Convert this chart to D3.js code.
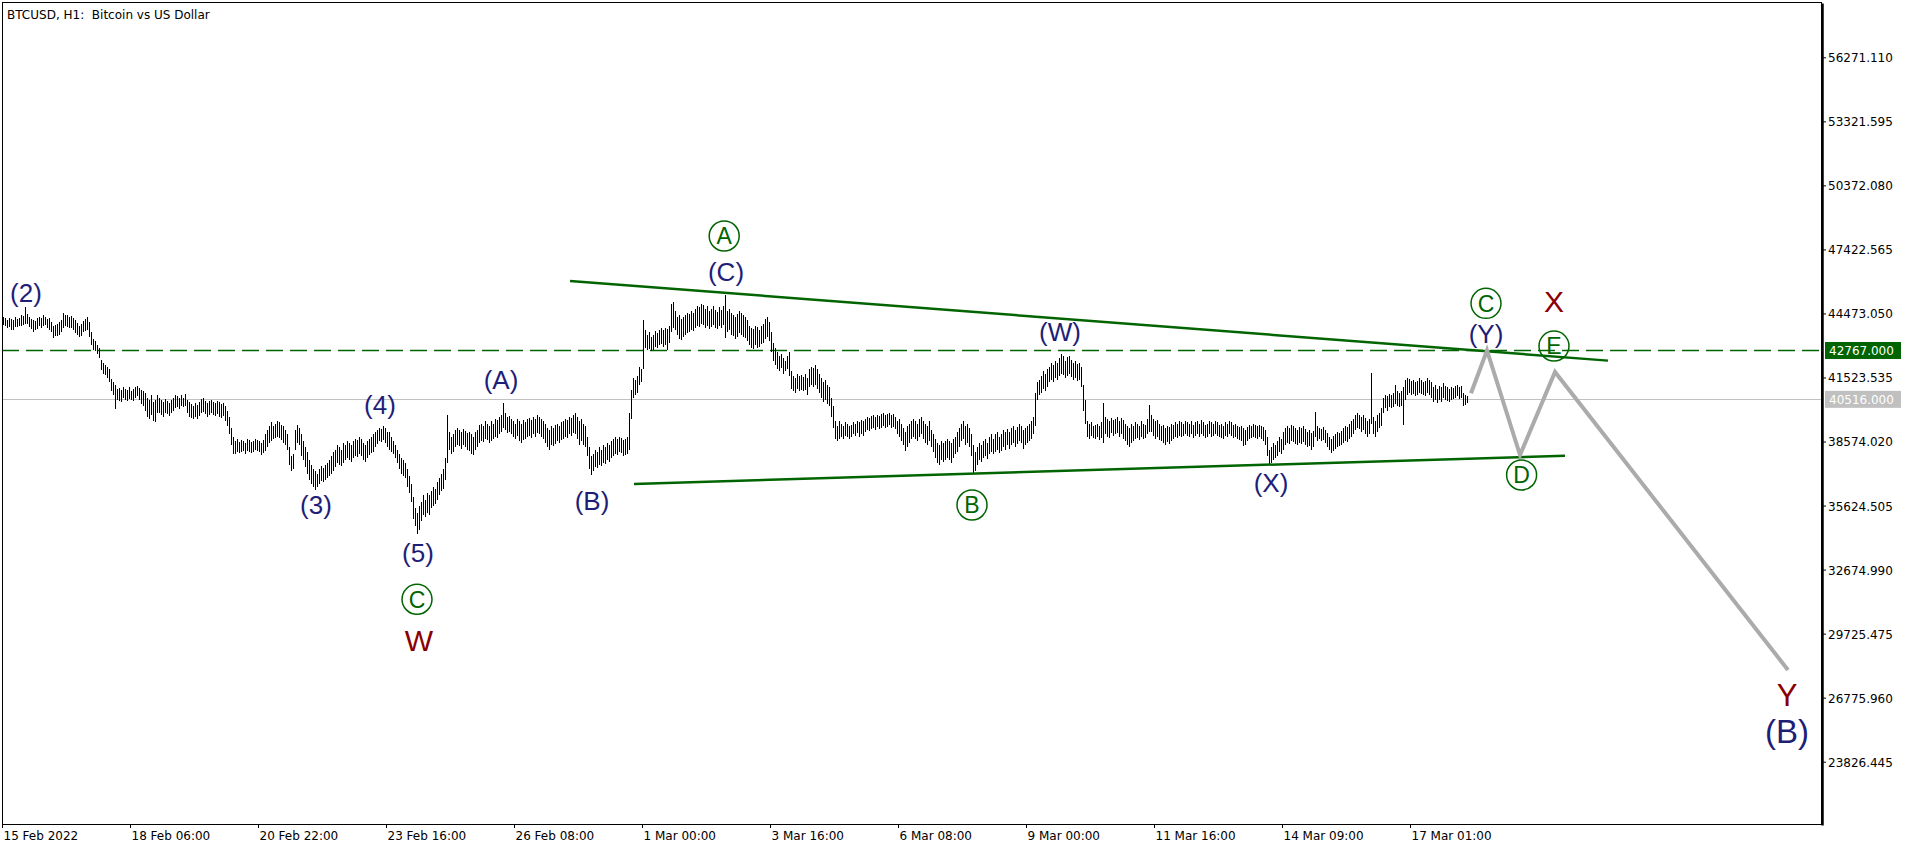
<!DOCTYPE html>
<html><head><meta charset="utf-8">
<script src="https://cdn.jsdelivr.net/npm/d3@7"></script>
<style>html,body{margin:0;padding:0;background:#fff;overflow:hidden}</style>
</head><body><svg id="c" width="1916" height="852"></svg>
<script>
const chartTitle = "BTCUSD, H1:  Bitcoin vs US Dollar";
const timeTickIndex = [0,64,128,192,256,320,384,448,512,576,640,704];
const timeTickLabels = ["15 Feb 2022","18 Feb 06:00","20 Feb 22:00","23 Feb 16:00","26 Feb 08:00","1 Mar 00:00","3 Mar 16:00","6 Mar 08:00","9 Mar 00:00","11 Mar 16:00","14 Mar 09:00","17 Mar 01:00"];
const priceTicks = [56271.110,53321.595,50372.080,47422.565,44473.050,41523.535,38574.020,35624.505,32674.990,29725.475,26775.960,23826.445];
const pendingLevel = 42767.000;
const lastPrice = 40516.000;
// hourly bars: [high, low]
const priceBars = [
[44320,43960],[44250,43900],[44160,43820],[44280,43860],[44200,43700],[44150,43720],[44300,43830],[44230,43850],[44260,43880],[44390,43900],
[44350,43960],[44770,44000],[44450,43980],[44300,43860],[44210,43740],[44180,43600],[44120,43700],[44250,43760],[44330,43880],[44280,43820],
[44400,43900],[44310,43950],[44220,43800],[44260,43700],[44100,43600],[43900,43360],[43960,43420],[44000,43450],[44060,43500],[44150,43620],
[44480,43800],[44420,43900],[44380,43860],[44300,43780],[44340,43800],[44250,43700],[44150,43560],[44050,43480],[43900,43380],[44000,43450],
[44120,43600],[44200,43650],[44300,43720],[44100,43400],[43600,43000],[43300,42800],[43200,42750],[43000,42600],[42900,42400],[42350,41850],
[42200,41700],[42100,41650],[42000,41500],[41900,41300],[41450,40900],[41300,40700],[41200,40050],[41000,40500],[41050,40450],[40950,40400],
[41100,40600],[41000,40500],[40950,40450],[41080,40550],[40900,40500],[41000,40450],[41100,40600],[41150,40650],[41050,40500],[40950,40300],
[40900,40200],[40800,40000],[40600,39700],[40500,39600],[40700,39800],[40400,39500],[40500,39450],[40700,39900],[40600,39900],[40500,39800],
[40400,39700],[40550,39900],[40450,39850],[40350,39750],[40500,39900],[40600,40000],[40700,40100],[40650,40150],[40600,40050],[40700,40200],
[40600,40150],[40750,40200],[40500,39900],[40400,39700],[40300,39650],[40200,39600],[40350,39700],[40250,39600],[40400,39750],[40550,39900],
[40600,39950],[40450,39850],[40350,39700],[40450,39800],[40500,39900],[40400,39800],[40350,39750],[40450,39850],[40400,39700],[40300,39650],
[40350,39750],[40200,39500],[40000,39300],[39700,38900],[39200,38400],[38800,38000],[38600,38000],[38700,38100],[38550,38050],[38650,38100],
[38600,38150],[38500,38000],[38700,38150],[38650,38100],[38550,38050],[38600,38100],[38700,38200],[38650,38150],[38600,38100],[38500,37950],
[38650,38050],[38900,38150],[39100,38300],[39300,38500],[39450,38600],[39300,38700],[39400,38750],[39500,38800],[39450,38750],[39350,38650],
[39300,38500],[39100,38400],[38900,38200],[38300,37500],[37900,37200],[38000,37300],[39100,38200],[39350,38500],[39200,38400],[38900,37900],
[38600,37700],[38300,37400],[38100,37100],[37700,36800],[37500,36600],[37300,36500],[37200,36340],[37100,36500],[37300,36600],[37450,36750],
[37350,36700],[37500,36800],[37600,36900],[37700,37000],[37900,37100],[38100,37200],[38200,37400],[38400,37600],[38300,37500],[38200,37450],
[38500,37600],[38400,37700],[38600,37800],[38500,37700],[38400,37650],[38600,37800],[38700,37900],[38650,37850],[38800,38000],[38700,37900],
[38500,37700],[38400,37650],[38600,37800],[38700,37950],[38800,38050],[38900,38100],[39000,38300],[39100,38450],[39200,38600],[39150,38550],
[39300,38650],[39200,38500],[39000,38300],[39000,38200],[38800,38100],[38600,38000],[38400,37800],[38200,37600],[38000,37300],[37800,37100],
[37700,37000],[37600,36900],[37300,36500],[37000,36200],[36600,35800],[36000,35000],[35500,34700],[35300,34300],[35600,34500],[35800,34900],
[36100,35200],[35900,35100],[36200,35300],[36100,35200],[36300,35500],[36500,35600],[36400,35700],[36700,35900],[36900,36100],[37100,36300],
[37300,36400],[37800,36800],[39800,37600],[39000,38200],[38800,38000],[38900,38100],[39100,38300],[39200,38400],[39100,38350],[39000,38250],
[39150,38400],[39050,38300],[38950,38200],[39000,38150],[38900,38000],[38800,37950],[39000,38200],[39100,38300],[39350,38500],[39400,38600],
[39300,38550],[39500,38700],[39400,38650],[39300,38500],[39500,38600],[39400,38700],[39600,38800],[39550,38750],[39700,38900],[39800,39000],
[40350,39200],[39900,39100],[39700,38950],[39750,39000],[39600,38900],[39500,38800],[39400,38700],[39600,38850],[39500,38600],[39400,38500],
[39550,38650],[39450,38700],[39600,38800],[39650,38850],[39550,38750],[39700,38900],[39600,38800],[39800,38950],[39700,38900],[39600,38800],
[39500,38700],[39400,38500],[39200,38300],[39100,38200],[39300,38400],[39200,38350],[39350,38450],[39400,38600],[39300,38500],[39450,38650],
[39500,38700],[39600,38800],[39550,38750],[39700,38900],[39650,38850],[39800,38950],[39900,38900],[39700,38700],[39500,38400],[39600,38600],
[39400,38400],[39300,38300],[38800,37900],[38300,37300],[37900,37030],[38000,37200],[38200,37400],[38100,37350],[38300,37500],[38200,37450],
[38400,37600],[38300,37550],[38500,37700],[38400,37650],[38600,37800],[38700,37900],[38800,38000],[38700,37950],[38800,38100],[38750,38050],
[38650,37900],[38700,37950],[38800,38000],[39900,38200],[40950,39600],[41500,40600],[41400,40700],[41600,40800],[42000,41200],[41900,41300],
[44170,41900],[43700,42900],[43500,42800],[43600,42850],[43400,42750],[43500,42800],[43650,42950],[43550,42900],[43700,43000],[43800,43050],
[43700,42950],[43800,43000],[43750,42790],[43900,43100],[44900,43600],[45000,43800],[44600,43700],[44300,43500],[44400,43300],[44200,43250],
[44300,43400],[44400,43500],[44500,43550],[44450,43600],[44600,43700],[44500,43650],[44700,43800],[44800,43900],[44750,43850],[44900,44000],
[44850,43950],[44700,43800],[44800,43900],[44600,43750],[44700,43850],[44800,43950],[44650,43800],[44550,43750],[44750,43900],[44650,43800],
[44800,43950],[45320,43350],[44600,43600],[44700,43700],[44500,43500],[44400,43450],[44300,43300],[44450,43400],[44600,43550],[44500,43500],
[44400,43400],[44300,43350],[44150,43200],[43900,43000],[43800,42900],[43750,42850],[43900,43000],[43850,42900],[43700,42950],[43900,43050],
[44000,43100],[44200,43300],[44300,43400],[44100,43200],[43600,42700],[43100,42300],[42900,42100],[42700,41900],[42500,41800],[42600,41950],
[42400,41700],[42300,41800],[42500,41900],[42700,41600],[41800,41000],[41600,40900],[41500,40800],[41700,41000],[41600,40900],[41650,40950],
[41550,40900],[41700,40950],[41500,40700],[41900,41100],[42000,41200],[41950,41100],[42100,41200],[41900,41000],[41700,40800],[41500,40600],
[41300,40400],[41400,40500],[41200,40300],[41100,40200],[40600,39700],[40200,39200],[39500,38700],[39300,38600],[39500,38700],[39400,38800],
[39300,38700],[39450,38850],[39400,38800],[39300,38700],[39350,38800],[39450,38900],[39400,38850],[39500,38950],[39450,38800],[39550,38900],
[39500,38850],[39600,39000],[39700,39100],[39650,39050],[39750,39150],[39800,39200],[39700,39100],[39800,39250],[39750,39150],[39850,39200],
[39900,39300],[39800,39200],[39850,39250],[39900,39350],[39800,39200],[39850,39250],[39700,39150],[39500,38900],[39600,38800],[39400,38600],
[39200,38400],[39000,38150],[39300,38300],[39400,38500],[39500,38700],[39600,38800],[39500,38700],[39400,38600],[39600,38800],[39700,38900],
[39500,38700],[39400,38500],[39300,38400],[39500,38600],[39100,38300],[38900,38100],[38700,37800],[38500,37600],[38400,37500],[38600,37700],
[38500,37650],[38600,37700],[38700,37800],[38600,37700],[38500,37600],[38700,37800],[38800,38000],[39000,38100],[39200,38300],[39400,38600],
[39500,38700],[39300,38400],[39400,38500],[39200,38300],[38900,37900],[38400,37120],[38100,37200],[38300,37500],[38500,37700],[38400,37650],
[38600,37800],[38700,37900],[38500,37750],[38800,38000],[38900,38100],[38700,38000],[38900,38100],[39000,38200],[38800,38050],[38900,38150],
[39100,38300],[39000,38200],[39150,38400],[39000,38250],[39200,38400],[39300,38500],[39100,38300],[39250,38450],[39400,38600],[39300,38500],
[39100,38250],[39200,38400],[39300,38500],[39400,38600],[39500,38700],[39700,38900],[40800,39300],[41300,40500],[41400,40700],[41600,40800],
[41800,41000],[41700,40900],[41900,41100],[42000,41300],[42200,41400],[42100,41300],[42300,41500],[42200,41400],[42400,41600],[42600,41700],
[42500,41650],[42300,41500],[42450,41600],[42500,41700],[42350,41550],[42200,41400],[42300,41500],[42150,41350],[42200,41400],[42000,41100],
[41200,40000],[40500,39400],[39500,38800],[39400,38700],[39450,38850],[39300,38750],[39350,38700],[39400,38800],[39300,38650],[39450,38750],
[40350,38500],[39700,38900],[39600,38800],[39500,38750],[39650,38950],[39550,38850],[39600,38900],[39700,38950],[39500,38800],[39650,38900],
[39550,38700],[39400,38600],[39300,38400],[39200,38300],[39400,38500],[39300,38600],[39450,38700],[39400,38750],[39300,38650],[39500,38800],
[39400,38700],[39350,38750],[39600,38900],[40250,39000],[39800,39000],[39600,38850],[39500,38700],[39550,38800],[39400,38650],[39300,38600],
[39350,38500],[39200,38400],[39300,38550],[39250,38450],[39400,38600],[39350,38700],[39450,38800],[39400,38750],[39500,38850],[39450,38800],
[39400,38850],[39500,38900],[39450,38850],[39400,38800],[39500,38900],[39350,38750],[39450,38850],[39500,38900],[39400,38800],[39550,38900],
[39450,38850],[39350,38750],[39400,38800],[39500,38900],[39450,38800],[39400,38850],[39500,38900],[39450,38850],[39350,38800],[39400,38750],
[39300,38700],[39450,38850],[39400,38800],[39500,38900],[39450,38850],[39350,38750],[39400,38800],[39300,38700],[39250,38650],[39300,38600],
[39200,38350],[39100,38400],[39250,38600],[39350,38700],[39300,38750],[39400,38800],[39350,38750],[39300,38700],[39350,38800],[39300,38700],
[39250,38600],[39100,38400],[38800,37900],[38200,37540],[38300,37600],[38500,37700],[38400,37800],[38600,37900],[38800,38100],[38700,38000],
[39000,38200],[39200,38400],[39300,38500],[39200,38450],[39350,38600],[39300,38550],[39200,38450],[39100,38400],[39250,38500],[39200,38450],
[39300,38550],[39150,38400],[39000,38300],[39100,38350],[38950,38200],[39050,38300],[39930,38800],[39300,38600],[39200,38700],[39150,38600],
[39250,38650],[39100,38500],[38950,38300],[38800,38200],[38700,38050],[38850,38150],[38900,38250],[39000,38300],[38950,38350],[39050,38400],
[39200,38500],[39300,38600],[39250,38550],[39400,38700],[39500,38800],[39600,38900],[39800,39100],[39900,39200],[39800,39150],[39700,39000],
[39800,39100],[39650,38900],[39500,38800],[39600,38900],[41730,39400],[39700,38900],[39500,38800],[39800,39000],[39900,39200],[40100,39300],
[40600,39900],[40700,40100],[40650,40000],[40750,40150],[40700,40100],[40800,40150],[41200,40300],[40900,40200],[40800,40150],[40900,40200],
[41100,39350],[41400,40500],[41500,40700],[41450,40800],[41350,40700],[41400,40750],[41300,40650],[41350,40700],[41500,40800],[41400,40750],
[41300,40700],[41350,40650],[41500,40800],[41400,40700],[41300,40600],[41100,40400],[41200,40500],[41000,40350],[41150,40500],[41100,40400],
[41250,40600],[41150,40500],[41100,40450],[41000,40400],[41100,40500],[41050,40550],[41150,40600],[41200,40650],[41100,40550],[41150,40600],
[40800,40200],[40700,40250],[40650,40350]
];
// projected path [bar index, price]
const projectionPath = [[734,40800],[742,42767],[758.5,37950],[776,41780],[892.5,28050]];
const upperTrendline = [[283.5,45970],[802.5,42300]];
const lowerTrendline = [[315.5,36620],[781,37920]];
const waveLabels = [
 {text:"(2)", i:11.5, price:45310, kind:"minor"},
 {text:"(3)", i:156.5, price:35560, kind:"minor"},
 {text:"(4)", i:188.5, price:40164, kind:"minor"},
 {text:"(5)", i:207.5, price:33347, kind:"minor"},
 {text:"C", i:207, price:31307, kind:"circled"},
 {text:"W", i:208, price:29432, kind:"major"},
 {text:"(A)", i:249, price:41315, kind:"minor"},
 {text:"(B)", i:294.5, price:35742, kind:"minor"},
 {text:"A", i:360.6, price:48040, kind:"circled"},
 {text:"(C)", i:361.5, price:46290, kind:"minor"},
 {text:"B", i:484.5, price:35650, kind:"circled"},
 {text:"(W)", i:528.5, price:43526, kind:"minor"},
 {text:"(X)", i:634, price:36571, kind:"minor"},
 {text:"C", i:741.5, price:44940, kind:"circled"},
 {text:"(Y)", i:741.5, price:43434, kind:"minor"},
 {text:"X", i:775.5, price:45046, kind:"major"},
 {text:"E", i:775.5, price:42973, kind:"circled"},
 {text:"D", i:759.3, price:37032, kind:"circled"},
 {text:"Y", i:892, price:26900, kind:"majorLarge"},
 {text:"(B)", i:892, price:25080, kind:"minorLarge"}
];

const labelStyles = {
 minor:{fill:"#1e1e78", size:26, shift:0.27},
 minorLarge:{fill:"#1e1e78", size:33, shift:0.27},
 major:{fill:"#8b0000", size:30, shift:0.36},
 majorLarge:{fill:"#8b0000", size:31, shift:0.36},
 circled:{fill:"#006400", size:23, shift:0.36, r:15}
};

const svg = d3.select("#c");
const plot = {left:2, right:1822, top:3, bottom:825};
const x = d3.scaleLinear().domain([-0.5, 909.5]).range([plot.left, plot.right]);
const y = d3.scaleLinear().domain([20911, 58772]).range([plot.bottom, plot.top]);
const smallFont = "'DejaVu Sans', Verdana, sans-serif";
const labelFont = "'Liberation Sans', Arial, sans-serif";

// level lines
svg.append("line").attr("x1",plot.left).attr("x2",plot.right)
  .attr("y1",Math.round(y(lastPrice))+0.5).attr("y2",Math.round(y(lastPrice))+0.5)
  .attr("stroke","#c0c0c0").attr("stroke-width",1);
svg.append("line").attr("x1",plot.left).attr("x2",plot.right)
  .attr("y1",y(pendingLevel)).attr("y2",y(pendingLevel))
  .attr("stroke","#006400").attr("stroke-width",1.5).attr("stroke-dasharray","17,7");

// bars
svg.append("g").attr("shape-rendering","crispEdges").selectAll("line").data(priceBars).join("line")
  .attr("x1",(d,i)=>Math.round(x(i))+0.5).attr("x2",(d,i)=>Math.round(x(i))+0.5)
  .attr("y1",d=>y(d[0])).attr("y2",d=>y(d[1]))
  .attr("stroke","#000").attr("stroke-width",1);

const line = d3.line().x(d=>x(d[0])).y(d=>y(d[1]));
// trendlines
[upperTrendline, lowerTrendline].forEach(t=>{
  svg.append("path").attr("d",line(t)).attr("fill","none").attr("stroke","#006400").attr("stroke-width",2.5);
});
// projection
svg.append("path").attr("d",line(projectionPath)).attr("fill","none")
  .attr("stroke","#ababab").attr("stroke-width",4).attr("stroke-linejoin","miter").attr("stroke-miterlimit",10);

// labels
const lg = svg.append("g");
waveLabels.forEach(l=>{
  const s = labelStyles[l.kind];
  const cx = x(l.i), cy = y(l.price);
  if (s.r) {
    lg.append("circle").attr("cx",cx).attr("cy",cy).attr("r",s.r)
      .attr("fill","none").attr("stroke",s.fill).attr("stroke-width",1.5);
  }
  lg.append("text").attr("x",cx).attr("y",cy + s.shift*s.size)
    .attr("text-anchor","middle").attr("font-family",labelFont).attr("font-size",s.size)
    .attr("fill",s.fill).text(l.text);
});

// frame
svg.append("rect").attr("x",2.5).attr("y",2.5).attr("width",1819).attr("height",822)
  .attr("fill","none").attr("stroke","#000").attr("stroke-width",1);

// right axis
const ya = svg.append("g").attr("transform","translate(1822,0)")
  .call(d3.axisRight(y).tickValues(priceTicks).tickFormat(d3.format(".3f")).tickSize(4).tickSizeOuter(0).tickPadding(2));
ya.attr("font-family",smallFont).attr("font-size",12);
ya.select(".domain").attr("stroke-width",2.5);
ya.selectAll("text").attr("dy","0.37em").attr("fill","#000");

// bottom axis
const xa = svg.append("g").attr("transform","translate(0,824)")
  .call(d3.axisBottom(x).tickValues(timeTickIndex.map(i=>i-0.5)).tickFormat((d,k)=>timeTickLabels[k]).tickSize(4).tickSizeOuter(0).tickPadding(3.5));
xa.attr("font-family",smallFont).attr("font-size",12);
xa.select(".domain").remove();
xa.selectAll("text").attr("text-anchor","start").attr("x",1).attr("fill","#000");

// price boxes
[[pendingLevel,"#006400"],[lastPrice,"#c0c0c0"]].forEach(([v,c])=>{
  const yy = y(v);
  svg.append("rect").attr("x",1825).attr("y",yy-8.5).attr("width",76).attr("height",17).attr("fill",c);
  svg.append("text").attr("x",1829).attr("y",yy+4.5).attr("font-family",smallFont).attr("font-size",12)
    .attr("fill","#fff").text(d3.format(".3f")(v));
});

// title
svg.append("text").attr("x",7).attr("y",18.5).attr("font-family",smallFont).attr("font-size",12)
  .style("white-space","pre").attr("fill","#000").text(chartTitle);
</script>
</body></html>
